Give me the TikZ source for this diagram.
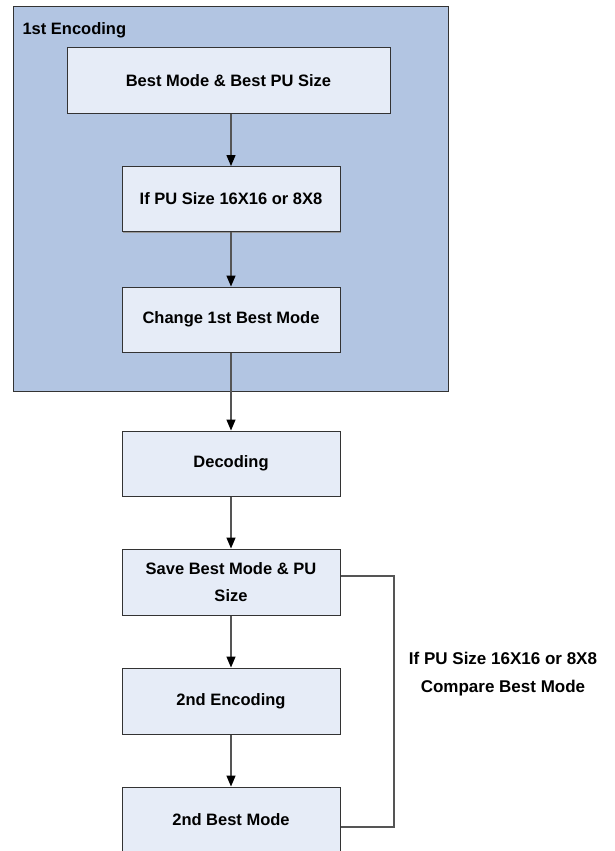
\documentclass[tikz,border=0pt]{standalone}
\usepackage{fontspec}
\setmainfont{Liberation Sans}
\usetikzlibrary{arrows.meta,shadows,calc}
\definecolor{outerfill}{HTML}{B2C5E2}
\definecolor{boxfill}{HTML}{E6ECF7}
\definecolor{edge}{HTML}{333333}
\definecolor{linecol}{HTML}{555555}
\tikzset{
  txt/.style={font=\bfseries\fontsize{16.5}{27}\selectfont, text=black},
  stepbox/.style={draw=edge, line width=1pt, fill=boxfill, minimum width=218pt, minimum height=65pt,
    inner sep=2pt, align=center, txt,
    drop shadow={shadow xshift=1.3pt, shadow yshift=-1.3pt, fill=gray!80, opacity=1}},
  arr/.style={draw=linecol, line width=1.3pt, -{Triangle[length=11pt,width=9pt,color=black]}},
  conn/.style={draw=linecol, line width=1.2pt}
}
\begin{document}
\begin{tikzpicture}[x=1pt,y=-1pt]
\useasboundingbox (0,0) rectangle (615,851);
% outer group
\node[draw=edge, line width=1pt, fill=outerfill, minimum width=435pt, minimum height=384pt,
  drop shadow={shadow xshift=1.3pt, shadow yshift=-1.3pt, fill=gray!80, opacity=1},
  inner sep=0pt] (outer) at (230.5,199) {};
\node[txt, anchor=west] (title) at (19,30) {1st Encoding};
% boxes
\node[stepbox, minimum width=323pt] (b1) at (228.5,80.5) {Best Mode \& Best PU Size};
\node[stepbox] (b2) at (231,199) {If PU Size 16X16 or 8X8};
\node[stepbox] (b3) at (231,319.5) {Change 1st Best Mode};
\node[stepbox] (dec) at (231,463.5) {Decoding};
\node[stepbox, minimum height=66pt] (save) at (231,582) {Save Best Mode \& PU\\Size};
\node[stepbox, minimum height=66pt] (enc2) at (231,701) {2nd Encoding};
\node[stepbox, minimum height=66pt] (best2) at (231,820) {2nd Best Mode};
% arrows
\draw[arr] (b1.south -| b2.north) -- (b2.north);
\draw[arr] (b2.south) -- (b3.north);
\draw[arr] (b3.south) -- (dec.north);
\draw[arr] (dec.south) -- (save.north);
\draw[arr] (save.south) -- (enc2.north);
\draw[arr] (enc2.south) -- (best2.north);
% feedback connector
\coordinate (c1) at (394,576);
\coordinate (c2) at (394,827);
\draw[conn] (c1 -| save.east) -- (c1) -- (c2) -- (c2 -| best2.east);
\node[txt, align=center, font=\bfseries\fontsize{17}{28}\selectfont] (lbl) at (503,674) {If PU Size 16X16 or 8X8\\Compare Best Mode};
\end{tikzpicture}
\end{document}
